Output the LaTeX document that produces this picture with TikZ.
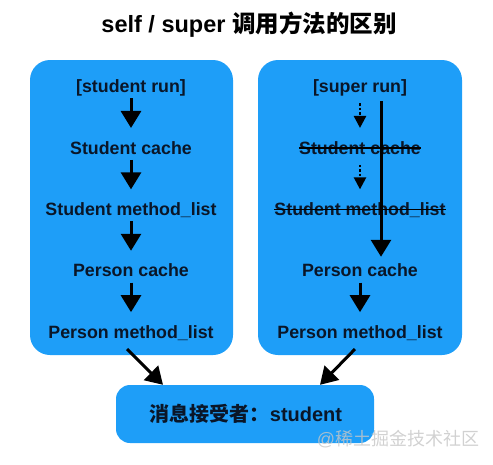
\documentclass[tikz,border=0pt]{standalone}
\usepackage{fontspec}
\setmainfont{Liberation Sans}
\newfontfamily\cjk{Noto Sans CJK SC}
\usetikzlibrary{positioning,arrows.meta}
\definecolor{panelblue}{HTML}{1E9EF8}
\definecolor{inkblue}{HTML}{0A1628}
\tikzset{
  panel/.style={rectangle, rounded corners=20pt, fill=panelblue, draw=none},
  lbl/.style={font=\bfseries\fontsize{17.8}{20}\selectfont, text=inkblue, text height=13pt, text depth=3.5pt, inner sep=2pt},
  ar/.style={-{Triangle[width=20pt,length=17pt]}, line width=3pt, black},
  dar/.style={-{Triangle[width=12pt,length=12pt]}, line width=2.4pt, dotted, black},
  strike/.style={line width=1.3pt, black, shorten <=2pt, shorten >=2pt},
  node distance=40.5pt
}

\begin{document}
\begin{tikzpicture}[x=1pt, y=-1pt]
	\useasboundingbox (0,0) rectangle (493,464);
	\node[font=\bfseries\fontsize{23.5}{26}\selectfont] (title) at (249,25) {self / super {\cjk 调用方法的区别}};
	%
	\node[panel, minimum width=203pt, minimum height=295pt] (selfbox) at (131.5,207.5) {};
	\node[panel, minimum width=204pt, minimum height=295pt] (superbox) at (360,207.5) {};
	\node[panel, rounded corners=14pt, minimum width=258pt, minimum height=58pt] (recvbox) at (245,414) {};
	
	\node[lbl] (srun) at (131,88) {[student run]};
	\node[lbl, below=of srun] (scache) {Student cache};
	\node[lbl, below=of scache] (smlist) {Student method\_list};
	\node[lbl, below=of smlist] (pcache) {Person cache};
	\node[lbl, below=of pcache] (pmlist) {Person method\_list};
	
	\node[lbl] (surun) at (360,88) {[super run]};
	\node[lbl, below=of surun] (sucache) {Student cache};
	\node[lbl, below=of sucache] (sumlist) {Student method\_list};
	\node[lbl, below=of sumlist] (supcache) {Person cache};
	\node[lbl, below=of supcache] (supmlist) {Person method\_list};
	
	\node[lbl, font=\bfseries\fontsize{20}{22}\selectfont] (recv) at (246,417) {{\cjk 消息接受者：}student};
	\node[font=\fontsize{18}{20}\selectfont, text=gray!45, opacity=0.8] (wmark) at (398,439) {@{\cjk 稀土掘金技术社区}};
	%
	\draw[ar, shorten >=11pt] (srun) -- (scache);
	\draw[ar, shorten >=11pt] (scache) -- (smlist);
	\draw[ar, shorten >=11pt] (smlist) -- (pcache);
	\draw[ar, shorten >=11pt] (pcache) -- (pmlist);
	
	\draw[dar, shorten <=5pt, shorten >=11pt] (surun) -- (sucache);
	\draw[dar, shorten <=5pt, shorten >=11pt] (sucache) -- (sumlist);
	\draw[ar, shorten <=3pt, shorten >=5pt] ([xshift=21pt]surun.south) -- ([xshift=21pt]supcache.north);
	\draw[ar, shorten >=11pt] (supcache) -- (supmlist);
	
	\draw[strike] ([yshift=1.5pt]sucache.west) -- ([yshift=1.5pt]sucache.east);
	\draw[strike] ([yshift=1.5pt]sumlist.west) -- ([yshift=1.5pt]sumlist.east);
	
	\draw[ar] ([xshift=-4pt,yshift=-5pt]pmlist.south) -- ([xshift=-82pt]recvbox.north);
	\draw[ar] ([xshift=-5pt,yshift=-5pt]supmlist.south) -- ([xshift=75pt]recvbox.north);
\end{tikzpicture}
\end{document}
